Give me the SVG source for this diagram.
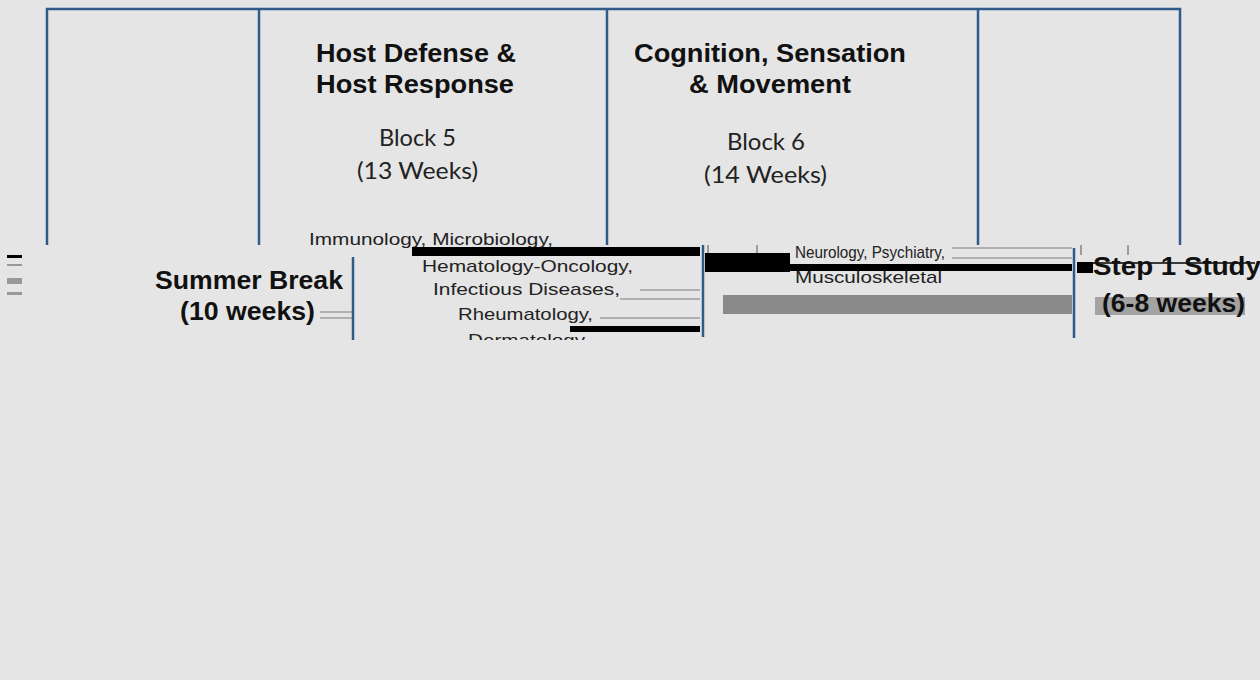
<svg xmlns="http://www.w3.org/2000/svg" width="1260" height="680" viewBox="0 0 1260 680">
<style>
.title{font-family:"Liberation Sans",Arial,sans-serif;font-weight:bold;font-size:25px;fill:#111}
.blk{font-family:Lato,"Open Sans",sans-serif;font-size:23px;fill:#222}
.sub{font-family:"Liberation Sans",Arial,sans-serif;font-size:17px;fill:#222}
.big{font-family:"Liberation Sans",Arial,sans-serif;font-weight:bold;font-size:25px;fill:#111}
.frame{stroke:#2f5b8a;stroke-width:2.5;fill:none}
.bar{fill:#000}
.gbar{fill:#8a8a8a}
.thin{stroke:#7a7a7a;stroke-width:1}
</style>
<defs>
<clipPath id="band"><rect x="0" y="245" width="1260" height="95"/></clipPath>
</defs>
<rect width="1260" height="680" fill="#e5e5e5"/>

<g id="connectors">
<path class="frame" d="M47 245 V9 H1180 V245"/>
<line class="frame" x1="259" y1="9" x2="259" y2="245"/>
<line class="frame" x1="607" y1="9" x2="607" y2="245"/>
<line class="frame" x1="978" y1="9" x2="978" y2="245"/>
<line class="frame" x1="353" y1="257" x2="353" y2="340"/>
<line class="frame" x1="703" y1="245" x2="703" y2="337"/>
<line class="frame" x1="1074" y1="248" x2="1074" y2="338"/>
</g>

<g id="block5">
<text class="title" x="316" y="62" textLength="200" lengthAdjust="spacingAndGlyphs">Host Defense &amp;</text>
<text class="title" x="316" y="93" textLength="198" lengthAdjust="spacingAndGlyphs">Host Response</text>
<text class="blk" x="379" y="146" textLength="77" lengthAdjust="spacingAndGlyphs">Block 5</text>
<text class="blk" x="357" y="179" textLength="121" lengthAdjust="spacingAndGlyphs">(13 Weeks)</text>
<text class="sub" x="309" y="245" textLength="244" lengthAdjust="spacingAndGlyphs">Immunology, Microbiology,</text>
</g>

<g id="block6">
<text class="title" x="634" y="62" textLength="272" lengthAdjust="spacingAndGlyphs">Cognition, Sensation</text>
<text class="title" x="689" y="93" textLength="162" lengthAdjust="spacingAndGlyphs">&amp; Movement</text>
<text class="blk" x="727" y="150" textLength="78" lengthAdjust="spacingAndGlyphs">Block 6</text>
<text class="blk" x="704" y="183" textLength="123" lengthAdjust="spacingAndGlyphs">(14 Weeks)</text>
</g>

<g id="band-shapes" clip-path="url(#band)">
<rect class="bar" x="7" y="255" width="15" height="3"/>
<rect x="7" y="264" width="15" height="2" fill="#999"/>
<rect x="7" y="278" width="15" height="6" fill="#999"/>
<rect x="7" y="292" width="15" height="3" fill="#999"/>
<rect class="bar" x="412" y="247" width="288" height="9"/>
<rect class="bar" x="705" y="253" width="85" height="19"/>
<rect class="bar" x="790" y="264" width="282" height="7"/>
<rect class="bar" x="570" y="326" width="130" height="6"/>
<rect class="gbar" x="723" y="295" width="349" height="19"/>
<rect class="bar" x="1077" y="262" width="16" height="11"/>
<line x1="1077" y1="263" x2="1255" y2="263" stroke="#000" stroke-width="1.5"/>
<rect x="1095" y="297" width="150" height="18" fill="#a3a3a3"/>
<line class="thin" x1="952" y1="248" x2="1072" y2="248"/>
<line class="thin" x1="952" y1="258" x2="1072" y2="258"/>
<line class="thin" x1="640" y1="290" x2="700" y2="290"/>
<line class="thin" x1="620" y1="299" x2="700" y2="299"/>
<line class="thin" x1="600" y1="318" x2="700" y2="318"/>
<line class="thin" x1="320" y1="312" x2="352" y2="312"/>
<line class="thin" x1="320" y1="318" x2="352" y2="318"/>
<line x1="708" y1="245" x2="708" y2="253" stroke="#555"/>
<line x1="757" y1="245" x2="757" y2="253" stroke="#555"/>
<line x1="1081" y1="245" x2="1081" y2="255" stroke="#555"/>
<line x1="1128" y1="245" x2="1128" y2="255" stroke="#555"/>
</g>

<g id="summer-break" clip-path="url(#band)">
<text class="big" x="155" y="289" textLength="188" lengthAdjust="spacingAndGlyphs">Summer Break</text>
<text class="big" x="180" y="320" textLength="135" lengthAdjust="spacingAndGlyphs">(10 weeks)</text>
</g>

<g id="block5-topics" clip-path="url(#band)">
<text class="sub" x="422" y="272" textLength="211" lengthAdjust="spacingAndGlyphs">Hematology-Oncology,</text>
<text class="sub" x="433" y="295" textLength="187" lengthAdjust="spacingAndGlyphs">Infectious Diseases,</text>
<text class="sub" x="458" y="320" textLength="135" lengthAdjust="spacingAndGlyphs">Rheumatology,</text>
<text class="sub" x="468" y="346" textLength="117" lengthAdjust="spacingAndGlyphs">Dermatology</text>
</g>

<g id="block6-topics" clip-path="url(#band)">
<text class="sub" x="795" y="258" textLength="150" lengthAdjust="spacingAndGlyphs">Neurology, Psychiatry,</text>
<text class="sub" x="795" y="283" textLength="147" lengthAdjust="spacingAndGlyphs">Musculoskeletal</text>
</g>

<g id="step1" clip-path="url(#band)">
<text class="big" x="1093" y="275" textLength="168" lengthAdjust="spacingAndGlyphs">Step 1 Study</text>
<text class="big" x="1102" y="312" textLength="143" lengthAdjust="spacingAndGlyphs">(6-8 weeks)</text>
</g>
</svg>
